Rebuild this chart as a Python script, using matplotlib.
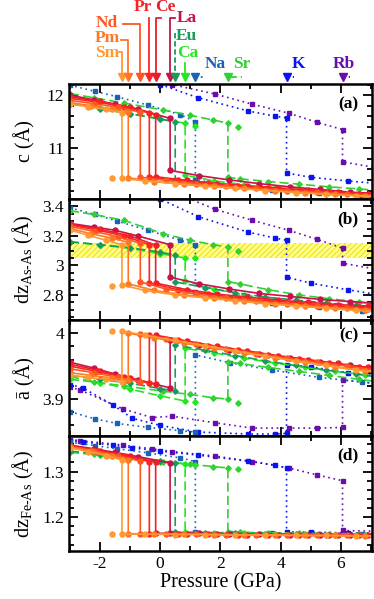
import matplotlib.pyplot as plt
import matplotlib.transforms as mtransforms
from matplotlib.ticker import MultipleLocator, FuncFormatter

plt.rcParams['font.family'] = ['Liberation Serif', 'DejaVu Serif']
plt.rcParams['mathtext.fontset'] = 'custom'
plt.rcParams['mathtext.rm'] = 'Liberation Serif'
plt.rcParams['mathtext.it'] = 'Liberation Serif:italic'
plt.rcParams['axes.unicode_minus'] = False
plt.rcParams['hatch.linewidth'] = 0.6

# each path: high-pressure tetragonal branch, jump at the transition, collapsed branch
sm_p = [-3.0, -2.4, -1.8, -1.27, -1.27, -0.5, 0.5, 1.5, 2.5, 3.5, 4.5, 5.5, 6.5, 7.3]
sm_c = [11.83, 11.78, 11.73, 11.67, 10.43, 10.38, 10.33, 10.28, 10.24, 10.20, 10.16, 10.13, 10.10, 10.08]
sm_dzas = [3.24, 3.205, 3.17, 3.14, 2.867, 2.83, 2.80, 2.78, 2.76, 2.74, 2.725, 2.71, 2.695, 2.685]
sm_a = [3.936, 3.933, 3.930, 3.926, 4.003, 3.997, 3.989, 3.981, 3.973, 3.965, 3.958, 3.951, 3.944, 3.940]
sm_dzfe = [1.352, 1.344, 1.335, 1.326, 1.163, 1.163, 1.162, 1.162, 1.161, 1.161, 1.160, 1.160, 1.159, 1.159]

pm_p = [-3.0, -2.3, -1.6, -1.06, -1.06, -0.2, 0.8, 1.8, 2.8, 3.8, 4.8, 5.8, 6.8, 7.3]
pm_c = [11.86, 11.80, 11.74, 11.68, 10.44, 10.37, 10.32, 10.28, 10.24, 10.20, 10.16, 10.13, 10.10, 10.09]
pm_dzas = [3.25, 3.215, 3.185, 3.157, 2.875, 2.83, 2.80, 2.78, 2.76, 2.74, 2.725, 2.71, 2.70, 2.69]
pm_a = [3.940, 3.936, 3.932, 3.929, 4.000, 3.993, 3.985, 3.977, 3.970, 3.963, 3.956, 3.949, 3.943, 3.941]
pm_dzfe = [1.354, 1.345, 1.335, 1.325, 1.164, 1.163, 1.163, 1.162, 1.161, 1.161, 1.160, 1.160, 1.159, 1.159]

nd_p = [-3.0, -2.2, -1.4, -0.66, -0.66, 0.2, 1.2, 2.2, 3.2, 4.2, 5.2, 6.2, 7.3]
nd_c = [11.90, 11.84, 11.77, 11.68, 10.45, 10.39, 10.33, 10.28, 10.24, 10.20, 10.17, 10.13, 10.10]
nd_dzas = [3.265, 3.23, 3.195, 3.15, 2.888, 2.84, 2.805, 2.78, 2.76, 2.74, 2.725, 2.71, 2.70]
nd_a = [3.946, 3.940, 3.933, 3.926, 3.998, 3.991, 3.983, 3.976, 3.969, 3.962, 3.956, 3.950, 3.943]
nd_dzfe = [1.355, 1.346, 1.335, 1.323, 1.164, 1.163, 1.163, 1.162, 1.161, 1.161, 1.160, 1.160, 1.159]

pr_p = [-3.0, -2.1, -1.2, -0.36, -0.36, 0.6, 1.6, 2.6, 3.6, 4.6, 5.6, 6.6, 7.3]
pr_c = [11.94, 11.87, 11.78, 11.67, 10.46, 10.39, 10.34, 10.29, 10.25, 10.21, 10.17, 10.14, 10.11]
pr_dzas = [3.275, 3.24, 3.20, 3.14, 2.88, 2.835, 2.805, 2.78, 2.76, 2.745, 2.73, 2.715, 2.705]
pr_a = [3.950, 3.942, 3.933, 3.924, 3.997, 3.989, 3.981, 3.974, 3.967, 3.961, 3.955, 3.949, 3.945]
pr_dzfe = [1.356, 1.346, 1.335, 1.322, 1.164, 1.163, 1.163, 1.162, 1.162, 1.161, 1.161, 1.160, 1.160]

ce_p = [-3.0, -2.0, -1.0, -0.15, -0.15, 0.9, 1.9, 2.9, 3.9, 4.9, 5.9, 6.9, 7.3]
ce_c = [11.97, 11.88, 11.77, 11.63, 10.46, 10.39, 10.33, 10.29, 10.25, 10.21, 10.17, 10.14, 10.12]
ce_dzas = [3.28, 3.245, 3.20, 3.137, 2.88, 2.835, 2.805, 2.785, 2.765, 2.75, 2.735, 2.722, 2.715]
ce_a = [3.953, 3.943, 3.932, 3.923, 3.997, 3.988, 3.980, 3.973, 3.966, 3.960, 3.954, 3.948, 3.946]
ce_dzfe = [1.357, 1.346, 1.334, 1.321, 1.165, 1.164, 1.163, 1.162, 1.162, 1.161, 1.161, 1.160, 1.160]

la_p = [-3.0, -2.2, -1.5, -0.75, 0.33, 0.33, 1.3, 2.3, 3.3, 4.3, 5.3, 6.3, 7.3]
la_c = [12.00, 11.91, 11.83, 11.74, 11.56, 10.58, 10.48, 10.40, 10.33, 10.27, 10.22, 10.17, 10.14]
la_dzas = [3.285, 3.26, 3.238, 3.20, 3.14, 2.92, 2.875, 2.84, 2.81, 2.79, 2.77, 2.755, 2.74]
la_a = [3.956, 3.947, 3.938, 3.929, 3.917, 3.990, 3.982, 3.975, 3.968, 3.962, 3.956, 3.951, 3.946]
la_dzfe = [1.358, 1.350, 1.342, 1.333, 1.319, 1.166, 1.165, 1.164, 1.163, 1.162, 1.162, 1.161, 1.161]

eu_p = [-3.0, -2.0, -1.0, 0.0, 0.5, 0.5, 1.5, 2.5, 3.5, 4.5, 5.5, 6.5, 7.3]
eu_c = [11.84, 11.74, 11.65, 11.55, 11.49, 10.40, 10.33, 10.27, 10.22, 10.18, 10.14, 10.11, 10.09]
eu_dzas = [3.16, 3.14, 3.12, 3.09, 3.07, 2.888, 2.85, 2.815, 2.785, 2.765, 2.745, 2.73, 2.72]
eu_a = [3.936, 3.930, 3.924, 3.916, 3.912, 3.982, 3.974, 3.966, 3.958, 3.951, 3.944, 3.938, 3.933]
eu_dzfe = [1.345, 1.338, 1.331, 1.323, 1.319, 1.167, 1.166, 1.165, 1.164, 1.163, 1.162, 1.162, 1.161]

ca_p = [-3.0, -2.0, -1.0, 0.0, 0.83, 0.83, 1.8, 2.8, 3.8, 4.8, 5.8, 6.8, 7.3]
ca_c = [11.85, 11.75, 11.65, 11.55, 11.47, 10.49, 10.38, 10.31, 10.25, 10.20, 10.16, 10.12, 10.10]
ca_dzas = [3.16, 3.14, 3.115, 3.08, 3.05, 2.895, 2.84, 2.80, 2.765, 2.74, 2.715, 2.695, 2.685]
ca_a = [3.934, 3.925, 3.915, 3.905, 3.897, 3.977, 3.970, 3.962, 3.955, 3.948, 3.942, 3.937, 3.934]
ca_dzfe = [1.343, 1.336, 1.329, 1.322, 1.317, 1.167, 1.166, 1.165, 1.164, 1.163, 1.162, 1.162, 1.161]
ca_extra = [1.15, 11.42, 3.05, 3.895, 1.315]

sr_p = [-3.0, -2.2, -1.2, 0.1, 1.0, 1.77, 2.25, 2.25, 2.65, 3.6, 4.6, 5.6, 6.6, 7.3]
sr_c = [12.03, 11.95, 11.85, 11.72, 11.62, 11.53, 11.47, 10.45, 10.42, 10.37, 10.32, 10.27, 10.23, 10.20]
sr_dzas = [3.37, 3.345, 3.305, 3.215, 3.17, 3.14, 3.125, 2.89, 2.875, 2.835, 2.80, 2.775, 2.752, 2.74]
sr_a = [3.930, 3.926, 3.920, 3.912, 3.907, 3.902, 3.900, 3.956, 3.954, 3.948, 3.942, 3.936, 3.930, 3.926]
sr_dzfe = [1.343, 1.338, 1.331, 1.322, 1.316, 1.311, 1.308, 1.167, 1.167, 1.166, 1.165, 1.164, 1.163, 1.163]
sr_extra = [2.6, 11.40, 3.10, 3.894, 1.305]

na_p = [-3.0, -2.17, -1.43, -0.4, 0.67, 1.17, 1.17, 2.33, 3.73, 5.27, 6.7, 7.3]
na_c = [12.19, 12.07, 11.97, 11.81, 11.63, 11.50, 10.40, 10.30, 10.21, 10.15, 10.10, 10.08]
na_dzas = [3.39, 3.346, 3.30, 3.238, 3.17, 3.14, 2.82, 2.78, 2.745, 2.715, 2.69, 2.68]
na_a = [3.881, 3.870, 3.863, 3.857, 3.852, 3.850, 3.967, 3.955, 3.944, 3.933, 3.926, 3.923]
na_dzfe = [1.364, 1.357, 1.350, 1.341, 1.330, 1.322, 1.167, 1.166, 1.165, 1.164, 1.163, 1.163]

k_p = [-3.0, -2.57, -1.57, -0.93, 0.0, 1.27, 2.93, 3.83, 4.2, 4.2, 5.0, 6.23, 7.3]
k_c = [12.80, 12.70, 12.50, 12.38, 12.20, 11.95, 11.70, 11.60, 11.57, 10.53, 10.45, 10.38, 10.33]
k_dzas = [3.72, 3.68, 3.60, 3.54, 3.45, 3.33, 3.225, 3.185, 3.17, 2.92, 2.88, 2.835, 2.80]
k_a = [3.922, 3.917, 3.891, 3.871, 3.860, 3.850, 3.847, 3.847, 3.848, 3.952, 3.949, 3.940, 3.935]
k_dzfe = [1.368, 1.365, 1.358, 1.352, 1.345, 1.336, 1.323, 1.314, 1.308, 1.168, 1.167, 1.166, 1.165]

rb_p = [-3.0, -2.67, -1.23, -0.27, 0.4, 1.83, 3.05, 4.27, 5.2, 6.06, 6.06, 7.3]
rb_c = [12.90, 12.85, 12.60, 12.38, 12.20, 12.02, 11.83, 11.66, 11.49, 11.35, 10.74, 10.62]
rb_dzas = [3.80, 3.77, 3.65, 3.57, 3.50, 3.38, 3.306, 3.238, 3.178, 3.117, 3.015, 2.97]
rb_a = [3.918, 3.914, 3.885, 3.872, 3.874, 3.864, 3.856, 3.856, 3.856, 3.857, 3.929, 3.923]
rb_dzfe = [1.370, 1.368, 1.358, 1.350, 1.344, 1.334, 1.322, 1.308, 1.293, 1.280, 1.171, 1.169]

sm_extra = [-1.6, 10.43, 2.86, 4.003, 1.163]

# hatched band in panel (b)
band_lo, band_hi = 3.05, 3.15

dotted = (0, (1, 2.2))
dashed = (0, (5.5, 2.5))
series = [
    ('Rb', '#6A0DAD', dotted, 's', rb_p, [rb_c, rb_dzas, rb_a, rb_dzfe]),
    ('K', '#0A14F0', dotted, 's', k_p, [k_c, k_dzas, k_a, k_dzfe]),
    ('Na', '#1862B8', dotted, 's', na_p, [na_c, na_dzas, na_a, na_dzfe]),
    ('Sr', '#33D033', dashed, 'D', sr_p, [sr_c, sr_dzas, sr_a, sr_dzfe]),
    ('Ca', '#22E822', dashed, 'D', ca_p, [ca_c, ca_dzas, ca_a, ca_dzfe]),
    ('Eu', '#1A9A5C', dashed, 'D', eu_p, [eu_c, eu_dzas, eu_a, eu_dzfe]),
    ('La', '#C8124A', '-', 'o', la_p, [la_c, la_dzas, la_a, la_dzfe]),
    ('Ce', '#E8202C', '-', 'o', ce_p, [ce_c, ce_dzas, ce_a, ce_dzfe]),
    ('Pr', '#FF2222', '-', 'o', pr_p, [pr_c, pr_dzas, pr_a, pr_dzfe]),
    ('Nd', '#FF5522', '-', 'o', nd_p, [nd_c, nd_dzas, nd_a, nd_dzfe]),
    ('Pm', '#FF7722', '-', 'o', pm_p, [pm_c, pm_dzas, pm_a, pm_dzfe]),
    ('Sm', '#FF9933', '-', 'o', sm_p, [sm_c, sm_dzas, sm_a, sm_dzfe]),
]
colors = {s[0]: s[1] for s in series}
extras = [('Sm', 'o', sm_extra), ('Ca', 'D', ca_extra), ('Sr', 'D', sr_extra)]
msize = {'o': 3.6, 'D': 2.8, 's': 3.2}

fig = plt.figure(figsize=(3.74, 5.99), dpi=100)
rows = [(84, 199), (199, 320), (320, 436), (436, 551)]
axs = [fig.add_axes([69 / 374, 1 - b / 599, 303 / 374, (b - t) / 599]) for t, b in rows]

ylims = [(10.04, 12.21), (2.63, 3.45), (3.844, 4.02), (1.126, 1.378)]
majors = [1, 0.2, 0.1, 0.1]
minors = [0.2, 0.05, 0.02, 0.02]
ylabels = ['c (Å)', 'dz$_{\\mathregular{As\u2010As}}$ (Å)', 'ā (Å)', 'dz$_{\\mathregular{Fe\u2010As}}$ (Å)']
tags = ['(a)', '(b)', '(c)', '(d)']
tag_y = [0.82, 0.83, 0.87, 0.835]

for k, ax in enumerate(axs):
    for name, col, ls, mk, p, vals in series:
        ax.plot(p, vals[k], color=col, ls=ls, lw=1.2, marker=mk, ms=msize[mk], mec=col, mfc=col)
    for name, mk, ex in extras:
        ax.plot([ex[0]], [ex[k + 1]], ls='none', marker=mk, ms=msize[mk], color=colors[name])
    ax.set_xlim(-3.03, 7.04)
    ax.set_ylim(*ylims[k])
    ax.xaxis.set_major_locator(MultipleLocator(2))
    ax.xaxis.set_minor_locator(MultipleLocator(1))
    ax.yaxis.set_major_locator(MultipleLocator(majors[k]))
    ax.yaxis.set_minor_locator(MultipleLocator(minors[k]))
    ax.yaxis.set_major_formatter(FuncFormatter(lambda v, _: '%g' % round(v, 4)))
    ax.tick_params(which='both', direction='in', top=True, right=True, width=1.3, labelsize=12.5)
    ax.tick_params(which='major', length=6.5)
    ax.tick_params(which='minor', length=3.5)
    for s in ax.spines.values():
        s.set_linewidth(1.8)
    ax.set_ylabel(ylabels[k], fontsize=14.5)
    ax.yaxis.set_label_coords(-0.11, 0.5)
    ax.text(0.955, tag_y[k], tags[k], transform=ax.transAxes, ha='right', va='center',
            fontsize=12.5, fontweight='bold')
    if k < 3:
        ax.tick_params(labelbottom=False)

axs[1].axhspan(band_lo, band_hi, facecolor='#FFFF88', edgecolor='#E8D800', hatch='//////',
               lw=0, zorder=0)
axs[3].set_xlabel('Pressure (GPa)', fontsize=14.5, labelpad=1)

# transition markers above panel (a)
ax = axs[0]
tr = mtransforms.blended_transform_factory(ax.transData, fig.transFigure)
pt = {'Sm': sm_p[3], 'Pm': pm_p[3], 'Nd': nd_p[3], 'Pr': pr_p[3], 'Ce': ce_p[3], 'La': la_p[4],
      'Eu': eu_p[4], 'Ca': ca_p[4], 'Na': na_p[5], 'Sr': sr_p[6], 'K': k_p[8], 'Rb': rb_p[9]}
y_tri, y_end = 0.8715, 0.8765
kw = dict(transform=tr, clip_on=False, lw=1.3)

def lab(name, x, y):
    fig.text(x, y, name, transform=tr, ha='center', va='center', fontsize=12.5,
             fontweight='bold', color=colors[name])

for name in pt:
    ax.plot([pt[name]], [y_tri], marker='v', ms=6, color=colors[name], transform=tr, clip_on=False)

lab('Nd', -1.77, 0.9616)
ax.plot([-1.24, pt['Nd'], pt['Nd']], [0.960, 0.960, y_end], color=colors['Nd'], **kw)
lab('Pm', -1.77, 0.9366)
ax.plot([-1.30, pt['Pm'], pt['Pm']], [0.9332, 0.9332, y_end], color=colors['Pm'], **kw)
lab('Sm', -1.77, 0.9115)
ax.plot([-1.37, pt['Sm'], pt['Sm']], [0.913, 0.913, y_end], color=colors['Sm'], **kw)
lab('Pr', -0.58, 0.9875)
ax.plot([pt['Pr'], pt['Pr']], [0.970, y_end], color=colors['Pr'], **kw)
lab('Ce', 0.16, 0.9875)
ax.plot([0.03, pt['Ce'], pt['Ce']], [0.970, 0.970, y_end], color=colors['Ce'], **kw)
lab('La', 0.88, 0.970)
ax.plot([0.49, pt['La'], pt['La']], [0.970, 0.970, y_end], color=colors['La'], **kw)
lab('Eu', 0.88, 0.940)
ax.plot([pt['Eu'], pt['Eu']], [0.945, y_end], color=colors['Eu'], ls=(0, (3, 1.5)), **kw)
lab('Ca', 0.90, 0.9115)
ax.plot([pt['Ca'], pt['Ca']], [0.895, 0.8795], color=colors['Ca'], **kw)
lab('Na', 1.82, 0.893)
ax.plot([pt['Na'], 1.52], [y_tri, y_tri], color=colors['Na'], ls=dotted, **kw)
lab('Sr', 2.71, 0.893)
ax.plot([pt['Sr'], 2.5], [y_tri, y_tri], color=colors['Sr'], **kw)
ax.plot([2.5, 2.72], [y_tri, y_tri], color=colors['Sr'], ls=dotted, **kw)
lab('K', 4.59, 0.893)
ax.plot([pt['K'], 4.45], [y_tri, y_tri], color=colors['K'], ls=dotted, **kw)
lab('Rb', 6.09, 0.893)
ax.plot([pt['Rb'], 6.3], [y_tri, y_tri], color=colors['Rb'], ls=dotted, **kw)

fig.savefig('out.png', dpi=100)
